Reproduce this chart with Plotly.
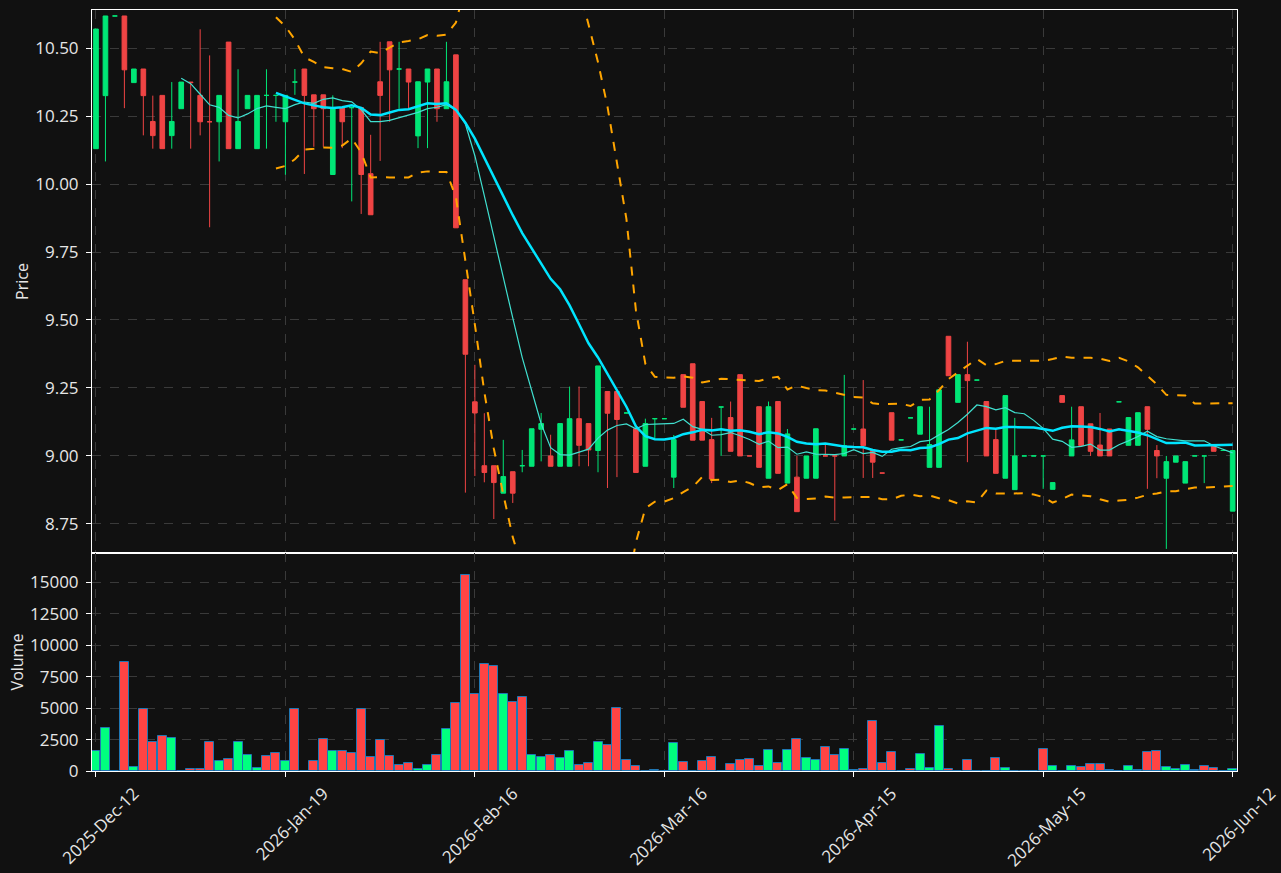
import plotly.graph_objects as go
from plotly.subplots import make_subplots
import pandas as pd

# ---------------- data ----------------
TICK_POS = [0, 20, 40, 60, 80, 100, 120]
TICK_LABELS = ["2025-Dec-12", "2026-Jan-19", "2026-Feb-16", "2026-Mar-16",
               "2026-Apr-15", "2026-May-15", "2026-Jun-12"]

OPEN = [10.13, 10.325, 10.618, 10.618, 10.373, 10.423, 10.23, 10.326, 10.178, 10.277,
        10.375, 10.326, 10.229, 10.229, 10.522, 10.13, 10.277, 10.13, 10.326, 10.326,
        10.229, 10.375, 10.423, 10.328, 10.328, 10.035, 10.281, 10.281, 10.281, 10.038,
        10.376, 10.523, 10.423, 10.423, 10.177, 10.375, 10.423, 10.277, 10.475, 9.648,
        9.199, 8.964, 8.964, 8.863, 8.942, 8.964, 8.962, 9.098, 9.0, 8.962,
        8.962, 9.137, 9.119, 9.02, 9.237, 9.237, 9.158, 9.1, 8.962, 9.137,
        9.137, 8.922, 9.299, 9.339, 9.2, 9.06, 9.18, 9.141, 9.299, 9.0,
        9.181, 8.918, 9.2, 8.9, 8.922, 8.918, 8.918, 9.0, 9.0, 9.0,
        9.099, 9.099, 9.02, 8.937, 9.159, 9.059, 9.14, 9.08, 8.958, 8.958,
        9.44, 9.197, 9.299, 9.279, 9.2, 9.06, 8.918, 8.876, 9.0, 9.0,
        9.0, 8.877, 9.222, 9.0, 9.181, 9.118, 9.04, 9.099, 9.199, 9.039,
        9.039, 9.181, 9.02, 8.918, 8.977, 8.9, 9.0, 9.0, 9.038, 9.02,
        8.797]
HIGH = [10.57, 10.618, 10.618, 10.618, 10.423, 10.423, 10.325, 10.326, 10.375, 10.375,
        10.375, 10.569, 10.473, 10.326, 10.522, 10.422, 10.326, 10.326, 10.422, 10.326,
        10.326, 10.423, 10.423, 10.328, 10.328, 10.326, 10.281, 10.281, 10.281, 10.181,
        10.523, 10.523, 10.523, 10.423, 10.376, 10.423, 10.423, 10.523, 10.475, 9.648,
        9.335, 9.157, 8.964, 9.059, 8.942, 9.022, 9.1, 9.158, 9.078, 9.119,
        9.255, 9.255, 9.119, 9.331, 9.237, 9.237, 9.158, 9.1, 9.137, 9.137,
        9.137, 9.077, 9.299, 9.339, 9.2, 9.14, 9.18, 9.2, 9.299, 9.0,
        9.181, 9.2, 9.2, 9.099, 9.0, 9.0, 9.1, 9.042, 9.0, 9.298,
        9.099, 9.279, 9.02, 8.937, 9.159, 9.059, 9.14, 9.181, 9.181, 9.243,
        9.44, 9.299, 9.42, 9.279, 9.2, 9.099, 9.222, 9.14, 9.0, 9.0,
        9.0, 8.902, 9.222, 9.181, 9.181, 9.118, 9.158, 9.099, 9.199, 9.141,
        9.159, 9.181, 9.04, 9.0, 9.0, 8.979, 9.0, 9.0, 9.038, 9.02,
        9.02]
LOW = [10.13, 10.083, 10.618, 10.279, 10.373, 10.179, 10.13, 10.13, 10.13, 10.277,
       10.13, 10.179, 9.841, 10.083, 10.13, 10.13, 10.277, 10.13, 10.13, 10.229,
       10.034, 10.328, 10.037, 10.137, 10.137, 10.035, 10.132, 9.936, 9.89, 9.887,
       10.085, 10.229, 10.277, 10.277, 10.132, 10.132, 10.229, 10.277, 9.839, 8.865,
       8.926, 8.903, 8.768, 8.863, 8.827, 8.94, 8.962, 8.98, 8.962, 8.962,
       8.962, 8.962, 8.962, 8.94, 8.882, 8.922, 9.158, 8.939, 8.962, 9.066,
       9.137, 8.882, 9.179, 9.058, 9.058, 8.9, 9.0, 9.017, 9.0, 9.0,
       8.958, 8.918, 8.936, 8.9, 8.795, 8.918, 8.918, 9.0, 8.762, 9.0,
       9.099, 8.919, 8.919, 8.937, 9.058, 9.059, 9.14, 9.08, 8.958, 8.958,
       9.295, 9.197, 8.977, 9.279, 9.0, 8.936, 8.918, 8.876, 9.0, 9.0,
       8.879, 8.877, 9.197, 9.0, 9.038, 9.0, 9.0, 9.0, 9.199, 9.039,
       9.039, 8.879, 8.918, 8.658, 8.977, 8.9, 9.0, 8.9, 9.017, 9.02,
       8.797]
CLOSE = [10.57, 10.618, 10.618, 10.42, 10.423, 10.325, 10.178, 10.13, 10.23, 10.375,
         10.373, 10.229, 10.229, 10.326, 10.13, 10.23, 10.326, 10.326, 10.326, 10.326,
         10.326, 10.375, 10.326, 10.277, 10.277, 10.281, 10.229, 10.281, 10.035, 9.887,
         10.326, 10.42, 10.423, 10.375, 10.376, 10.423, 10.277, 10.376, 9.839, 9.374,
         9.158, 8.939, 8.902, 8.924, 8.863, 8.964, 9.1, 9.119, 8.962, 9.119,
         9.137, 9.039, 9.022, 9.331, 9.157, 9.134, 9.158, 8.939, 9.119, 9.137,
         9.137, 9.06, 9.179, 9.058, 9.058, 8.915, 9.18, 9.017, 9.0, 9.0,
         8.958, 9.181, 8.936, 9.081, 8.795, 9.0, 9.1, 9.0, 9.0, 9.038,
         9.099, 9.038, 8.977, 8.937, 9.058, 9.059, 9.14, 9.181, 9.042, 9.243,
         9.295, 9.299, 9.277, 9.279, 9.0, 8.936, 9.222, 9.0, 9.0, 9.0,
         9.0, 8.902, 9.197, 9.059, 9.038, 9.017, 9.0, 9.0, 9.199, 9.141,
         9.159, 9.098, 9.0, 8.979, 9.0, 8.979, 9.0, 9.0, 9.017, 9.02,
         9.02]
VOLUME = [1620, 3450, 0, 8700, 350, 4970, 2340, 2810, 2650, 30,
          190, 190, 2280, 770, 980, 2340, 1300, 270, 1170, 1460,
          820, 4970, 0, 820, 2570, 1620, 1620, 1460, 4970, 1140,
          2500, 1220, 500, 660, 190, 500, 1300, 3370, 5440, 15630,
          6160, 8550, 8390, 6160, 5520, 5920, 1300, 1140, 1300, 1060,
          1620, 500, 660, 2340, 2100, 5040, 900, 430, 0, 110,
          0, 2260, 740, 0, 820, 1140, 0, 580, 900, 980,
          430, 1700, 660, 1700, 2570, 1060, 900, 1940, 1300, 1780,
          100, 190, 4010, 660, 1540, 0, 190, 1380, 270, 3610,
          190, 30, 900, 0, 30, 1060, 270, 30, 0, 0,
          1780, 430, 0, 430, 350, 580, 580, 110, 0, 430,
          110, 1540, 1620, 350, 190, 500, 110, 430, 270, 0,
          190]

# ---------------- derived ----------------
N = len(CLOSE)
X = list(range(N))
close_s = pd.Series(CLOSE)
ma10 = close_s.rolling(10).mean()
ma20 = close_s.rolling(20).mean()
sd20 = close_s.rolling(20).std(ddof=0)
upper = ma20 + 2 * sd20
lower = ma20 - 2 * sd20

INC_CANDLE = "#00e676"
DEC_CANDLE = "#ef4444"
INC_VOL = "#00ff7f"
DEC_VOL = "#ff4444"
vol_colors = [INC_VOL if c > o else DEC_VOL for o, c in zip(OPEN, CLOSE)]

BG = "#111111"
GRID = "#3a3a3a"
TXT = "#e6e6e6"
FONT = "Open Sans"
TICK_SIZE = 17
TITLE_SIZE = 16

fig = make_subplots(rows=2, cols=1, shared_xaxes=True, vertical_spacing=0)

fig.add_trace(go.Candlestick(
    x=X, open=OPEN, high=HIGH, low=LOW, close=CLOSE,
    increasing=dict(line=dict(color=INC_CANDLE, width=1), fillcolor=INC_CANDLE),
    decreasing=dict(line=dict(color=DEC_CANDLE, width=1), fillcolor=DEC_CANDLE),
    whiskerwidth=0, name="Price", showlegend=False), row=1, col=1)

fig.add_trace(go.Scatter(x=X, y=ma10, mode="lines",
                         line=dict(color="#40e0d0", width=1.2), showlegend=False), row=1, col=1)
fig.add_trace(go.Scatter(x=X, y=ma20, mode="lines",
                         line=dict(color="#00e5ff", width=2.5), showlegend=False), row=1, col=1)
fig.add_trace(go.Scatter(x=X, y=upper, mode="lines",
                         line=dict(color="#ffa500", width=2, dash="dash"), showlegend=False), row=1, col=1)
fig.add_trace(go.Scatter(x=X, y=lower, mode="lines",
                         line=dict(color="#ffa500", width=2, dash="dash"), showlegend=False), row=1, col=1)

fig.add_trace(go.Bar(x=X, y=VOLUME, marker=dict(color=vol_colors,
                     line=dict(color="#1f77b4", width=1)),
                     width=0.95, showlegend=False), row=2, col=1)

H_TOP = 218 / 761
fig.update_layout(
    width=1281, height=873,
    margin=dict(l=92, r=44, t=10, b=102),
    paper_bgcolor=BG, plot_bgcolor=BG,
    font=dict(family=FONT, size=TITLE_SIZE, color=TXT),
    showlegend=False,
    bargap=0,
)

axis_common = dict(showline=True, linecolor="white", linewidth=1, mirror=True,
                   showgrid=True, gridcolor=GRID, griddash="dash", gridwidth=1,
                   zeroline=False, automargin=False)

fig.update_xaxes(range=[-0.42, 120.46], tickmode="array", tickvals=TICK_POS,
                 ticktext=TICK_LABELS, rangeslider=dict(visible=False), **axis_common)
fig.update_xaxes(showticklabels=False, ticks="", row=1, col=1)
fig.update_xaxes(ticks="outside", ticklen=5, tickcolor="white", tickangle=-45,
                 ticklabelshift=38, ticklabeloverflow="allow",
                 tickfont=dict(family=FONT, size=TICK_SIZE, color=TXT), row=2, col=1)

fig.update_yaxes(domain=[H_TOP, 1.0], range=[8.643, 10.640],
                 tickvals=[8.75, 9.0, 9.25, 9.5, 9.75, 10.0, 10.25, 10.5],
                 tickformat=".2f", ticks="outside", ticklen=5, tickcolor="white",
                 ticklabelstandoff=4,
                 tickfont=dict(family=FONT, size=TICK_SIZE, color=TXT),
                 title=dict(text="Price", standoff=2, font=dict(family=FONT, size=TITLE_SIZE, color=TXT)),
                 **axis_common, row=1, col=1)
fig.update_yaxes(domain=[0.0, H_TOP], range=[0, 17340],
                 tickvals=[0, 2500, 5000, 7500, 10000, 12500, 15000],
                 tickformat="d", ticks="outside", ticklen=5, tickcolor="white",
                 ticklabelstandoff=4,
                 tickfont=dict(family=FONT, size=TICK_SIZE, color=TXT),
                 title=dict(text="Volume", standoff=2, font=dict(family=FONT, size=TITLE_SIZE, color=TXT)),
                 **axis_common, row=2, col=1)

fig.write_html("out.html")
